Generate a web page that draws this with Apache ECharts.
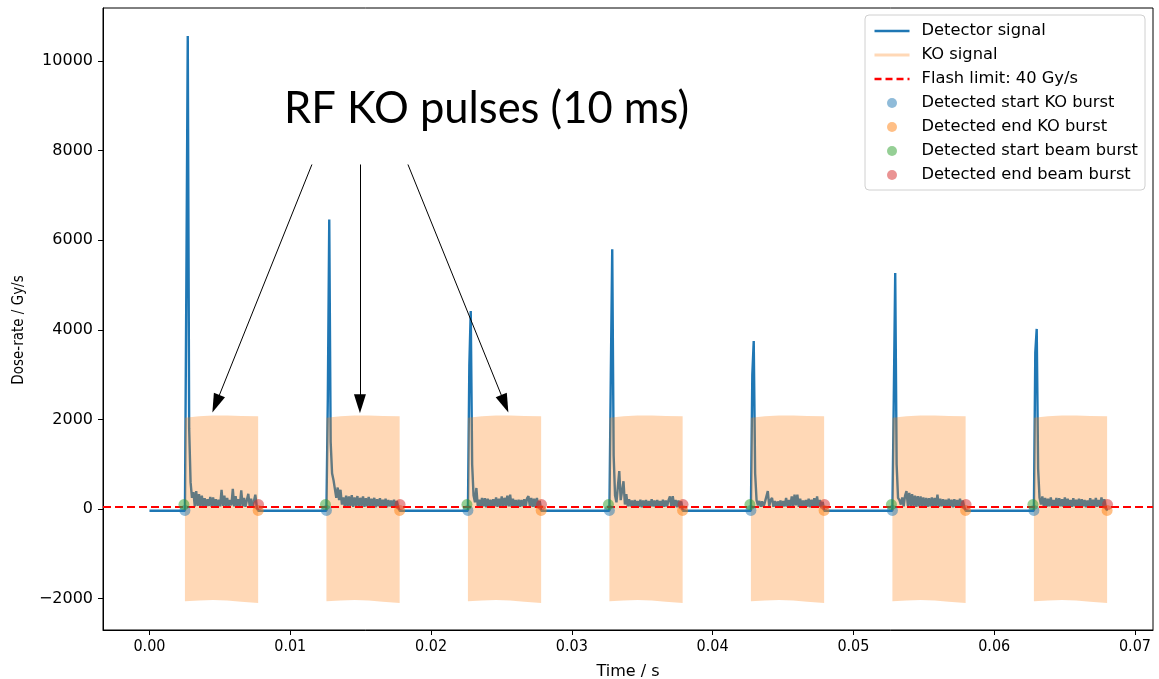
<!DOCTYPE html>
<html>
<head>
<meta charset="utf-8">
<script src="https://cdn.jsdelivr.net/npm/echarts@6/dist/echarts.min.js"></script>
<style>html,body{margin:0;padding:0;background:#fff;}#c{width:1159px;height:679px;}</style>
</head>
<body>
<div id="c"></div>
<script>
// ---------------- data ----------------
const xTicks = [0, 0.01, 0.02, 0.03, 0.04, 0.05, 0.06, 0.07];
const yTicks = [-2000, 0, 2000, 4000, 6000, 8000, 10000];

const pulseStarts = [0.00252, 0.01257, 0.02262, 0.03267, 0.04272, 0.05277, 0.06282]; // s
const signalStart = 0.0;
const signalEnd = 0.0680;
const baselineLevel = -40;   // Gy/s between pulses
const flashLimit = 40;       // Gy/s

// detector samples within each pulse (offset in ms from pulse start)
const offsetsMs = [0.0,0.1,0.2,0.3,0.4,0.5,0.6,0.7,0.8,0.9,1.0,1.1,1.2,1.3,1.4,1.5,1.6,1.7,1.8,1.9,2.0,2.1,2.2,2.3,2.4,2.5,2.6,2.7,2.8,2.9,3.0,3.1,3.2,3.3,3.4,3.5,3.6,3.7,3.8,3.9,4.0,4.1,4.2,4.3,4.4,4.5,4.6,4.7,4.8,4.9,5.0,5.1,5.2];
const pulse1 = [-40,5000,10560,1800,600,250,380,60,400,70,330,50,300,60,240,50,220,70,270,50,260,60,220,40,210,60,430,70,300,50,250,60,200,80,450,60,290,50,220,70,415,60,250,50,200,340,60,230,50,175,320,50,-40];
const pulse2 = [-40,2500,6460,1500,800,650,620,250,480,200,430,100,260,60,300,50,280,70,310,50,260,70,290,50,250,70,280,50,240,60,270,50,230,70,250,40,220,60,240,50,210,60,230,40,200,60,190,40,210,50,180,40,-40];
const pulse3 = [-40,3200,4420,1000,300,150,470,60,210,50,250,60,240,40,230,60,210,50,220,60,260,50,230,60,280,50,250,70,300,60,320,50,230,60,200,40,210,50,200,60,220,50,240,290,60,250,50,230,40,250,60,180,-40];
const pulse4 = [-40,3000,5800,1200,300,150,500,845,200,400,620,100,330,60,220,60,190,40,200,60,180,50,210,40,190,60,200,40,180,50,220,60,190,40,200,50,180,40,210,50,190,60,200,280,50,290,60,200,40,190,50,170,-40];
const pulse5 = [-40,3000,3750,800,200,80,180,50,170,50,160,200,400,60,200,250,50,180,40,170,50,190,40,180,60,250,50,200,60,280,60,320,80,320,50,230,40,190,60,200,50,230,40,210,50,240,40,280,50,200,40,160,-40];
const pulse6 = [-40,2500,5270,1000,250,200,100,260,60,300,400,70,360,60,330,60,300,50,290,60,280,50,260,60,250,50,240,60,260,50,250,60,320,50,230,60,220,40,210,50,230,60,210,40,220,50,200,40,230,50,190,40,-40];
const pulse7 = [-40,3500,4020,900,250,100,280,60,250,50,230,60,260,50,200,60,250,40,240,60,220,50,260,40,230,60,200,50,240,60,210,40,230,50,220,60,200,40,190,50,240,60,210,40,250,50,200,60,260,50,220,40,-40];
const pulseValues = [pulse1, pulse2, pulse3, pulse4, pulse5, pulse6, pulse7];

// KO signal envelope (oscillation amplitude) within each pulse
const koOffsetsMs = [0.0, 1.0, 2.0, 3.0, 4.0, 5.2];
const koTop = [2040, 2070, 2090, 2085, 2075, 2070];
const koBottom = [-2060, -2040, -2030, -2040, -2070, -2100];

// detected burst markers
const koStartTimes   = [0.00252, 0.01257, 0.02262, 0.03267, 0.04272, 0.05277, 0.06282];
const koEndTimes     = [0.00772, 0.01777, 0.02782, 0.03787, 0.04792, 0.05797, 0.06802];
const beamStartTimes = [0.00245, 0.01250, 0.02255, 0.03260, 0.04265, 0.05270, 0.06275];
const beamEndTimes   = [0.00775, 0.01780, 0.02785, 0.03790, 0.04795, 0.05800, 0.06805];
const koMarkerLevel = -30;
const beamMarkerLevel = 100;

// annotation arrows (data coordinates)
const arrowFrom = [[0.01154, 7690], [0.01495, 7690], [0.01836, 7690]];
const arrowTo   = [[0.00472, 2350], [0.01495, 2350], [0.02524, 2350]];

// ---------------- build series data ----------------
const detData = [[signalStart, baselineLevel]];
pulseStarts.forEach((ps, k) => {
  offsetsMs.forEach((o, i) => detData.push([ps + o / 1000, pulseValues[k][i]]));
});
detData.push([signalEnd, baselineLevel]);

const koTopData = [], koBotData = [];
pulseStarts.forEach((ps) => {
  koOffsetsMs.forEach((o, j) => {
    koTopData.push([ps + o / 1000, koTop[j]]);
    koBotData.push([ps + o / 1000, koBottom[j]]);
  });
  koTopData.push([ps + 0.007, '-']);
  koBotData.push([ps + 0.007, '-']);
});

const mk = (times, level) => times.map(t => [t, level]);

const FONT = 'DejaVu Sans';
const KO_COLOR = 'rgba(255,127,14,0.3)';
const HIDE_SYMBOL = {opacity: 0};

const chart = echarts.init(document.getElementById('c'), null, {renderer: 'canvas'});
chart.setOption({
  animation: false,
  backgroundColor: '#fff',
  textStyle: {fontFamily: FONT},
  title: {
    text: 'RF KO pulses (10 ms)',
    left: 284, top: 87, padding: 0,
    textStyle: {fontFamily: 'Lato', fontWeight: 'normal', fontSize: 43.5, color: '#000'}
  },
  grid: {left: 103, right: 6, top: 8, bottom: 49, show: true, borderColor: '#000', borderWidth: 1,
         containLabel: false, outerBoundsMode: 'none'},
  legend: {
    orient: 'vertical', right: 14, top: 15,
    padding: [8, 7, 7, 8],
    itemWidth: 35, itemHeight: 10, itemGap: 8,
    backgroundColor: 'rgba(255,255,255,0.85)',
    borderColor: '#d0d0d0', borderWidth: 1, borderRadius: 4,
    textStyle: {fontFamily: FONT, fontSize: 16.3, color: '#000', lineHeight: 16, padding: [0, 0, 0, 7]},
    data: [
      {name: 'Detector signal', itemStyle: HIDE_SYMBOL, lineStyle: {color: '#1f77b4', width: 2.5}},
      {name: 'KO signal', itemStyle: HIDE_SYMBOL, lineStyle: {color: KO_COLOR, width: 3}},
      {name: 'Flash limit: 40 Gy/s', itemStyle: HIDE_SYMBOL, lineStyle: {color: '#ff0000', width: 2.5, type: [7, 4]}},
      {name: 'Detected start KO burst', icon: 'circle'},
      {name: 'Detected end KO burst', icon: 'circle'},
      {name: 'Detected start beam burst', icon: 'circle'},
      {name: 'Detected end beam burst', icon: 'circle'}
    ]
  },
  xAxis: {
    type: 'value', min: -0.0033, max: 0.07128,
    name: 'Time / s', nameLocation: 'middle', nameGap: 34,
    nameTextStyle: {fontFamily: FONT, fontSize: 16, color: '#000'},
    splitLine: {show: false},
    axisLine: {show: true, onZero: false, lineStyle: {color: '#000', width: 1}},
    axisTick: {show: true, inside: false, length: 5, lineStyle: {color: '#000'}, customValues: xTicks},
    axisLabel: {
      customValues: xTicks, margin: 9,
      fontFamily: 'DejaVu Sans Condensed', fontSize: 16, color: '#000',
      formatter: v => v.toFixed(2)
    }
  },
  yAxis: {
    type: 'value', min: -2700, max: 11183,
    name: 'Dose-rate / Gy/s', nameLocation: 'middle', nameGap: 76, nameRotate: 90,
    nameTextStyle: {fontFamily: 'DejaVu Sans Condensed', fontSize: 15, color: '#000', padding: [0, 22, 0, 0]},
    splitLine: {show: false},
    axisLine: {show: true, onZero: false, lineStyle: {color: '#000', width: 1}},
    axisTick: {show: true, inside: false, length: 5, lineStyle: {color: '#000'}, customValues: yTicks},
    axisLabel: {
      customValues: yTicks, margin: 10,
      fontFamily: FONT, fontSize: 16, color: '#000',
      formatter: v => (v < 0 ? '\u2212' + Math.abs(v) : String(v))
    }
  },
  series: [
    {
      name: 'Detector signal', type: 'line', data: detData,
      showSymbol: false, symbol: 'none', sampling: false,
      lineStyle: {color: '#1f77b4', width: 2.4},
      itemStyle: {color: '#1f77b4'}, z: 2
    },
    {
      name: 'KO signal', type: 'line', data: koTopData,
      showSymbol: false, symbol: 'none', connectNulls: false,
      lineStyle: {width: 0, color: KO_COLOR},
      itemStyle: {color: KO_COLOR},
      areaStyle: {color: '#ff7f0e', opacity: 0.3, origin: 0}, z: 3
    },
    {
      name: 'KO signal', type: 'line', data: koBotData,
      showSymbol: false, symbol: 'none', connectNulls: false,
      lineStyle: {width: 0, color: KO_COLOR},
      itemStyle: {color: KO_COLOR},
      areaStyle: {color: '#ff7f0e', opacity: 0.3, origin: 0}, z: 3
    },
    {
      name: 'Flash limit: 40 Gy/s', type: 'line', data: [],
      symbol: 'none', showSymbol: false,
      lineStyle: {color: '#ff0000', width: 2, type: [8, 4]},
      itemStyle: {color: '#ff0000'},
      markLine: {
        silent: true, symbol: ['none', 'none'], label: {show: false},
        lineStyle: {color: '#ff0000', width: 2, type: [8, 4]},
        data: [{yAxis: flashLimit}]
      }, z: 4
    },
    {
      name: 'Detected start KO burst', type: 'scatter', data: mk(koStartTimes, koMarkerLevel),
      symbolSize: 11, itemStyle: {color: '#1f77b4', opacity: 0.5}, z: 5
    },
    {
      name: 'Detected end KO burst', type: 'scatter', data: mk(koEndTimes, koMarkerLevel),
      symbolSize: 11, itemStyle: {color: '#ff7f0e', opacity: 0.5}, z: 5
    },
    {
      name: 'Detected start beam burst', type: 'scatter', data: mk(beamStartTimes, beamMarkerLevel),
      symbolSize: 11, itemStyle: {color: '#2ca02c', opacity: 0.5}, z: 5
    },
    {
      name: 'Detected end beam burst', type: 'scatter', data: mk(beamEndTimes, beamMarkerLevel),
      symbolSize: 11, itemStyle: {color: '#d62728', opacity: 0.5}, z: 5
    },
    {
      name: 'annotation', type: 'line', data: [], symbol: 'none', z: 6,
      markLine: {
        silent: true, animation: false,
        symbol: ['none', 'triangle'], symbolSize: [12, 19],
        label: {show: false},
        lineStyle: {color: '#000', width: 1, type: 'solid'},
        itemStyle: {color: '#000'},
        data: arrowFrom.map((f, i) => [{coord: f}, {coord: arrowTo[i]}])
      }
    }
  ]
});
</script>
</body>
</html>
